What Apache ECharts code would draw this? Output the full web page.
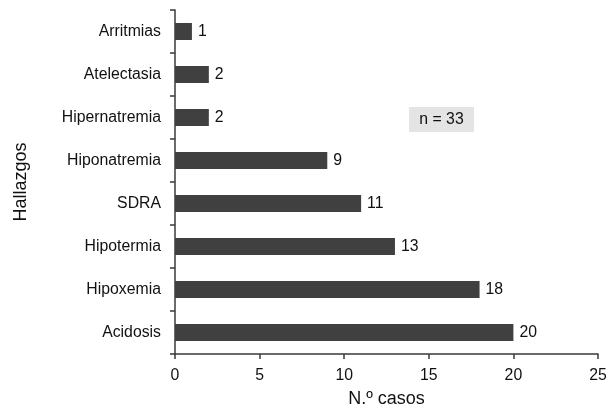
<!DOCTYPE html>
<html>
<head>
<meta charset="utf-8">
<script src="https://cdn.jsdelivr.net/npm/echarts@6/dist/echarts.min.js"></script>
<style>
  html, body { margin: 0; padding: 0; background: #fff; }
  #chart { width: 606px; height: 412px; }
</style>
</head>
<body>
<div id="chart"></div>
<script>
// Hallazgos clínicos, ordenados de arriba abajo
const categories = ['Arritmias', 'Atelectasia', 'Hipernatremia', 'Hiponatremia', 'SDRA', 'Hipotermia', 'Hipoxemia', 'Acidosis'];
const casos = [1, 2, 2, 9, 11, 13, 18, 20];
const xTicks = [0, 5, 10, 15, 20, 25];
const sampleNote = 'n = 33';

const font = '"Liberation Sans", Arial, Helvetica, sans-serif';
const axisColor = '#3a3a3a';
const textSize = 15.8;
const titleSize = 18;

const chart = echarts.init(document.getElementById('chart'), null, { renderer: 'canvas' });
chart.setOption({
  animation: false,
  backgroundColor: '#ffffff',
  grid: { left: 175, right: 8, top: 10, bottom: 58, containLabel: false, outerBoundsMode: 'none' },
  xAxis: {
    type: 'value',
    min: xTicks[0],
    max: xTicks[xTicks.length - 1],
    interval: 5,
    name: 'N.º casos',
    nameLocation: 'middle',
    nameGap: 36,
    nameTextStyle: { fontFamily: font, fontSize: titleSize, color: '#111' },
    axisLine: { show: true, lineStyle: { color: axisColor, width: 1.5 } },
    axisTick: { show: true, length: 5, lineStyle: { color: axisColor, width: 1.5 } },
    axisLabel: { fontFamily: font, fontSize: textSize, color: '#111', margin: 14 },
    splitLine: { show: false }
  },
  yAxis: {
    type: 'category',
    data: categories,
    inverse: true,
    name: 'Hallazgos',
    nameLocation: 'middle',
    nameGap: 145,
    nameRotate: 90,
    nameTextStyle: { fontFamily: font, fontSize: titleSize, color: '#111' },
    axisLine: { show: true, lineStyle: { color: axisColor, width: 1.5 } },
    axisTick: { show: true, length: 5, alignWithLabel: false, lineStyle: { color: axisColor, width: 1.5 } },
    axisLabel: { fontFamily: font, fontSize: textSize, color: '#111', margin: 14 }
  },
  series: [{
    type: 'bar',
    data: casos,
    barWidth: 17,
    itemStyle: { color: '#404040' },
    label: {
      show: true,
      position: 'right',
      distance: 6,
      fontFamily: font,
      fontSize: textSize,
      color: '#111'
    }
  }],
  graphic: [{
    type: 'group',
    left: 409,
    top: 107,
    children: [
      { type: 'rect', shape: { x: 0, y: 0, width: 65, height: 25 }, style: { fill: '#e4e4e4' } },
      { type: 'text', x: 32.5, y: 12.5, style: { text: sampleNote, font: textSize + 'px ' + font, fill: '#111', textAlign: 'center', textVerticalAlign: 'middle' } }
    ]
  }]
});
</script>
</body>
</html>
